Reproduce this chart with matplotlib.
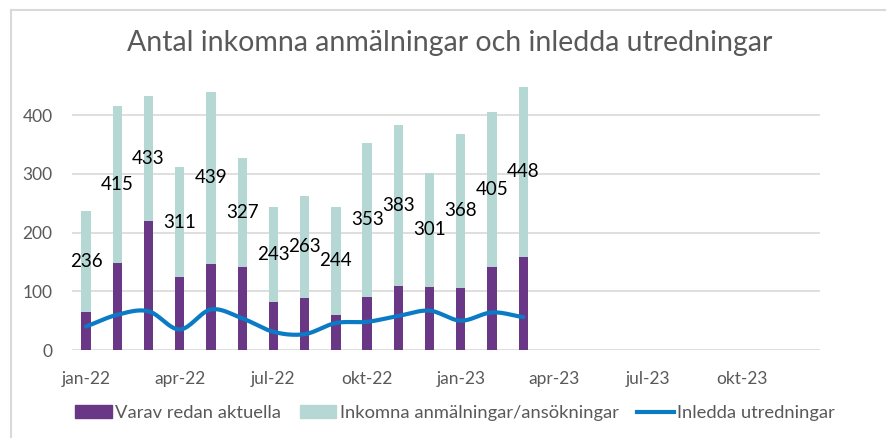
import matplotlib
matplotlib.use('Agg')
import matplotlib.pyplot as plt
from matplotlib.lines import Line2D
from matplotlib.patches import Patch
import numpy as np

plt.rcParams['font.family'] = ['Lato', 'DejaVu Sans']

# data
months = ['jan-22', 'feb-22', 'mar-22', 'apr-22', 'maj-22', 'jun-22', 'jul-22', 'aug-22',
          'sep-22', 'okt-22', 'nov-22', 'dec-22', 'jan-23', 'feb-23', 'mar-23']
inkomna = [236, 415, 433, 311, 439, 327, 243, 263, 244, 353, 383, 301, 368, 405, 448]
aktuella = [65, 149, 220, 124, 147, 142, 81, 89, 60, 91, 109, 108, 106, 142, 159]
inledda = [40, 60, 66, 35, 69, 54, 31, 27, 46, 48, 58, 67, 50, 64, 56]

tick_pos = [0, 3, 6, 9, 12, 15, 18, 21]
tick_labels = ['jan-22', 'apr-22', 'jul-22', 'okt-22', 'jan-23', 'apr-23', 'jul-23', 'okt-23']

c_purple = '#6a3786'
c_teal = '#b5d8d5'
c_blue = '#0a7bc4'
c_text = '#595959'
c_grid = '#d9d9d9'


def smooth(x, y, n=20):
    # catmull-rom, roughly what Excel does with "smoothed line"
    x = np.asarray(x, float)
    y = np.asarray(y, float)
    px = np.concatenate([[2*x[0]-x[1]], x, [2*x[-1]-x[-2]]])
    py = np.concatenate([[2*y[0]-y[1]], y, [2*y[-1]-y[-2]]])
    xs, ys = [], []
    t = np.linspace(0, 1, n, endpoint=False)
    for i in range(1, len(px)-2):
        for arr, out in ((px, xs), (py, ys)):
            p0, p1, p2, p3 = arr[i-1], arr[i], arr[i+1], arr[i+2]
            out.extend(0.5*((2*p1) + (-p0+p2)*t + (2*p0-5*p1+4*p2-p3)*t**2 + (-p0+3*p1-3*p2+p3)*t**3))
    xs.append(x[-1])
    ys.append(y[-1])
    return np.array(xs), np.array(ys)


fig = plt.figure(figsize=(8.87, 4.38), dpi=100)
ax = fig.add_axes([0.0812, 0.2009, 0.8438, 0.610])

x = np.arange(len(months))
rest = np.array(inkomna) - np.array(aktuella)
w = 0.3
ax.bar(x, aktuella, w, color=c_purple, zorder=2)
ax.bar(x, rest, w, bottom=aktuella, color=c_teal, zorder=2)

sx, sy = smooth(x, inledda)
ax.plot(sx, sy, color=c_blue, linewidth=3, solid_capstyle='round', zorder=3)

for xi, a, tot in zip(x, aktuella, inkomna):
    ax.text(xi, (a + tot) / 2, str(tot), ha='center', va='center', fontsize=13.5, color='black', zorder=4)

ax.set_xlim(-0.45, 23.52)
ax.set_ylim(0, 455)
ax.set_yticks([0, 100, 200, 300, 400])
ax.set_xticks(tick_pos)
ax.set_xticklabels(tick_labels)
ax.tick_params(length=0, labelsize=12.5, colors=c_text)
ax.tick_params(axis='x', pad=15)
ax.tick_params(axis='y', pad=14)
ax.grid(axis='y', color=c_grid, linewidth=1.2, zorder=0)
for s in ax.spines.values():
    s.set_visible(False)

fig.text(0.507, 0.902, 'Antal inkomna anmälningar och inledda utredningar', ha='center', va='center',
         fontsize=20.5, color=c_text)

handles = [Patch(color=c_purple), Patch(color=c_teal), Line2D([], [], color=c_blue, linewidth=3)]
fig.legend(handles, ['Varav redan aktuella', 'Inkomna anmälningar/ansökningar', 'Inledda utredningar'],
           loc='center', bbox_to_anchor=(0.513, 0.057), ncol=3, frameon=False, fontsize=13.2,
           labelcolor=c_text, handlelength=2.0, handleheight=0.7, handletextpad=0.2, columnspacing=1.0)

# chart border (only top and left edge show in the crop)
fig.add_artist(Line2D([11/887, 11/887], [0, 1 - 10/438], color=c_grid, linewidth=1.5))
fig.add_artist(Line2D([11/887, 1], [1 - 10/438, 1 - 10/438], color=c_grid, linewidth=1.5))

fig.savefig('out.png', dpi=100)
